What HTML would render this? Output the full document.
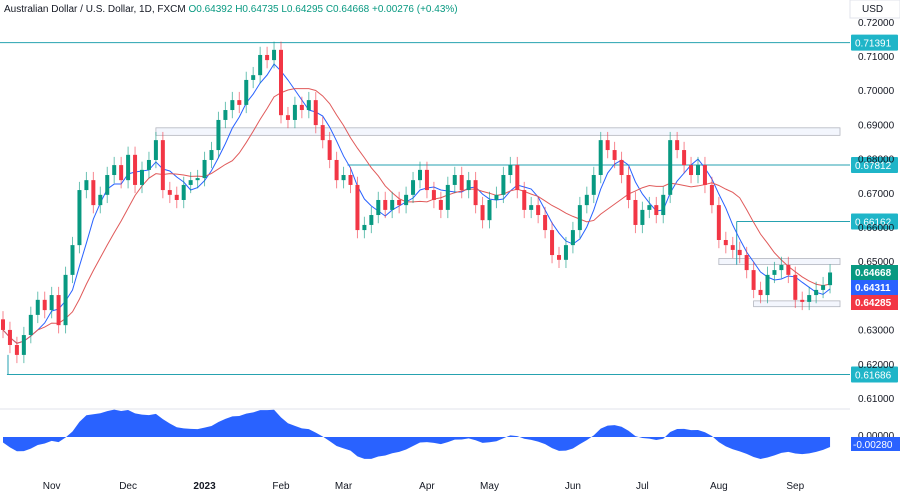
<!DOCTYPE html>
<html><head><meta charset="utf-8"><style>
body{margin:0;background:#fff;font-family:"Liberation Sans",sans-serif;}
#c{position:absolute;left:0;top:0;}
</style></head><body>
<svg id="c" width="900" height="493" font-family="Liberation Sans, sans-serif">
<rect width="900" height="493" fill="#fff"/>
<text x="4" y="12" font-size="10" fill="#131722">Australian Dollar / U.S. Dollar, 1D, FXCM <tspan fill="#089981">O0.64392 H0.64735 L0.64295 C0.64668 +0.00276 (+0.43%)</tspan></text>
<rect x="850" y="0" width="50" height="18" fill="#fff" stroke="#e0e3eb"/>
<text x="862" y="12" font-size="10" fill="#131722">USD</text>
<line x1="0" y1="409" x2="850" y2="409" stroke="#e0e3eb"/>
<g id="zones"></g><g id="lines"></g><g id="ma"></g><g id="candles"></g><g id="osc"></g><g id="axis"></g>
</svg>
<script>
const closes=[0.6299,0.6255,0.6226,0.6284,0.6343,0.6387,0.6357,0.6401,0.6313,0.6460,
0.6547,0.6708,0.6737,0.6664,0.6694,0.6752,0.6781,0.6737,0.6811,0.6723,
0.6767,0.6796,0.6854,0.6708,0.6694,0.6679,0.6723,0.6737,0.6743,0.6796,
0.6825,0.6913,0.6942,0.6971,0.6957,0.7030,0.7044,0.7103,0.7088,0.7118,
0.6927,0.6913,0.6957,0.6942,0.6971,0.6898,0.6854,0.6796,0.6737,0.6752,
0.6723,0.6591,0.6606,0.6635,0.6679,0.6650,0.6679,0.6664,0.6694,0.6737,
0.6767,0.6708,0.6679,0.6650,0.6723,0.6752,0.6708,0.6737,0.6664,0.6620,
0.6679,0.6694,0.6752,0.6781,0.6708,0.6650,0.6664,0.6635,0.6591,0.6518,
0.6504,0.6547,0.6591,0.6664,0.6694,0.6752,0.6854,0.6825,0.6796,0.6752,
0.6679,0.6606,0.6650,0.6664,0.6635,0.6694,0.6854,0.6825,0.6781,0.6752,
0.6781,0.6723,0.6664,0.6562,0.6547,0.6533,0.6518,0.6474,0.6416,0.6401,
0.6460,0.6474,0.6489,0.6460,0.6387,0.6381,0.6401,0.6416,0.6430,0.6467];
const firstOpen=0.6330;
const priceTicks=[0.72,0.71,0.70,0.69,0.68,0.67,0.66,0.65,0.64,0.63,0.62,0.61];
const monthLabels=["Nov","Dec","2023","Feb","Mar","Apr","May","Jun","Jul","Aug","Sep"];
const monthBars=[7,18,29,40,49,61,70,82,92,103,114];
const levels=[0.71391,0.67812,0.66162,0.61686];
const levelStart=[0,50,106,1];
const zones=[[0.6890,0.6868,22],[0.6508,0.6490,103],[0.6384,0.6367,108]];
const NS="http://www.w3.org/2000/svg";
const y=p=>398-(p-0.61)*3420;
const x=i=>3+i*6.95;
const oy=v=>437-v*2000;
function mk(t,a,parent){const e=document.createElementNS(NS,t);for(const k in a)e.setAttribute(k,a[k]);document.getElementById(parent).appendChild(e);return e;}
priceTicks.forEach(p=>{const t=mk('text',{x:858,y:y(p)+4,'font-size':10,fill:'#131722'},'axis');t.textContent=p.toFixed(5);

});
monthLabels.forEach((m,k)=>{const t=mk('text',{x:x(monthBars[k]),y:489,'font-size':10,fill:'#131722','text-anchor':'middle','font-weight':m==='2023'?'bold':'normal'},'axis');t.textContent=m;

});
zones.forEach(z=>{const r=mk('rect',{x:x(z[2]),y:y(z[0]),width:840-x(z[2]),height:y(z[1])-y(z[0]),fill:'#f3f6fd',stroke:'#b2b5be','stroke-width':0.8},'zones');

});
levels.forEach((l,k)=>{const l1=mk('line',{x1:x(levelStart[k])-3,x2:850,y1:y(l),y2:y(l),stroke:'#26a2b0','stroke-width':1},'lines');


const r=mk('rect',{x:851,y:y(l)-8,width:47,height:16,fill:'#1fb5c8',rx:1},'lines');


const t=mk('text',{x:855,y:y(l)+4,'font-size':10,fill:'#fff'},'lines');t.textContent=l.toFixed(5);});
mk('line',{x1:x(106)-3,x2:x(106)-3,y1:y(0.66162),y2:y(0.6490),stroke:'#26a2b0'},'lines');
mk('line',{x1:8,x2:8,y1:y(0.61686),y2:y(0.6226),stroke:'#26a2b0'},'lines');
function sma(n){return closes.map((c,i)=>{const s=closes.slice(Math.max(0,i-n+1),i+1);return s.reduce((a,b)=>a+b,0)/s.length;});}
[[5,'#2962ff'],[11,'#e05a5a']].forEach(([n,col])=>{const m=sma(n);const p=mk('polyline',{points:m.map((v,i)=>x(i)+','+y(v)).join(' '),fill:'none',stroke:col,'stroke-width':1},'ma');

});
closes.forEach((c,i)=>{const o=i?closes[i-1]:firstOpen;const up=c>=o;const col=up?'#089981':'#f23645';
const hi=Math.max(o,c)+0.0024,lo=Math.min(o,c)-0.0024;
const w=mk('line',{x1:x(i),x2:x(i),y1:y(hi),y2:y(lo),stroke:col,'stroke-width':1,opacity:0.6},'candles');


const b=mk('rect',{x:x(i)-2,y:y(Math.max(o,c)),width:4,height:Math.max(1,Math.abs(y(o)-y(c))),fill:col},'candles');

});
function ema(n){const k=2/(n+1);let e=0.645;return closes.map(c=>e=c*k+e*(1-k));}
const ef=ema(6),es=ema(18);const osc=closes.map((c,i)=>ef[i]-es[i]);
let d='M'+x(0)+','+437;osc.forEach((v,i)=>d+=' L'+x(i)+','+oy(v));d+=' L'+x(closes.length-1)+',437 Z';
const a=mk('path',{d:d,fill:'#2962ff'},'osc');


const last=osc[osc.length-1];
const t0=mk('text',{x:858,y:439,'font-size':10,fill:'#131722'},'osc');t0.textContent='0.00000';
const lb=mk('rect',{x:851,y:437,width:49,height:14,fill:'#2962ff'},'osc');


const lt=mk('text',{x:853,y:448,'font-size':10,fill:'#fff'},'osc');lt.textContent='-0.00280';
[[0.64668,'#089981',265],[0.64311,'#2962ff',280],[0.64285,'#f23645',295]].forEach(([v,col,yy])=>{
const r=mk('rect',{x:851,y:yy,width:47,height:15,fill:col},'axis');


const t=mk('text',{x:855,y:yy+11,'font-size':10,fill:'#fff','font-weight':'bold'},'axis');t.textContent=v.toFixed(5);});
</script>
</body></html>
